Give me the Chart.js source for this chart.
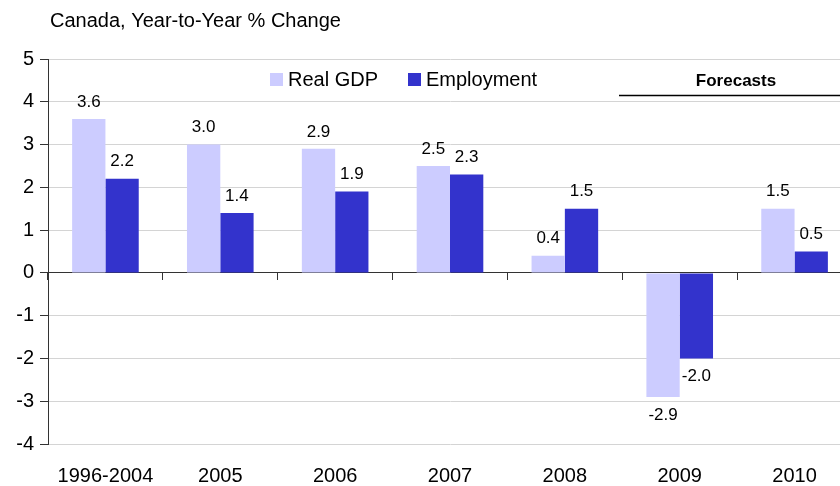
<!DOCTYPE html>
<html>
<head>
<meta charset="utf-8">
<script src="https://cdn.jsdelivr.net/npm/chart.js@4"></script>
<style>
    html, body { margin: 0; padding: 0; background: #fff; overflow: hidden; }
    #wrap { width: 860px; height: 508px; position: relative; }
</style>
</head>
<body>
<div id="wrap"><canvas id="js--growth"></canvas></div>
<script>
const years = ['1996-2004', '2005', '2006', '2007', '2008', '2009', '2010'];
const realGdp = [3.6, 3.0, 2.9, 2.5, 0.4, -2.9, 1.5];
const employment = [2.2, 1.4, 1.9, 2.3, 1.5, -2.0, 0.5];
const yTicks = [-4, -3, -2, -1, 0, 1, 2, 3, 4, 5];

const textFont = 'Liberation Sans, Arial, sans-serif';

/* value labels, legend, title and forecast note */
const extras = {
    id: 'extras',
    afterDatasetsDraw: function (chart) {
        const ctx = chart.ctx;
        ctx.save();
        ctx.font = '17px ' + textFont;
        ctx.fillStyle = '#000';
        ctx.textAlign = 'center';
        ctx.textBaseline = 'middle';
        chart.data.datasets.forEach(function (ds, i) {
            chart.getDatasetMeta(i).data.forEach(function (bar, j) {
                const v = ds.data[j];
                const y = v >= 0 ? bar.y - 17 : bar.y + 18;
                ctx.fillText(v.toFixed(1), bar.x, y);
            });
        });
        ctx.restore();
    },
    afterDraw: function (chart) {
        const ctx = chart.ctx;
        ctx.save();
        ctx.fillStyle = '#000';
        ctx.textBaseline = 'alphabetic';
        ctx.textAlign = 'left';
        ctx.font = '20px ' + textFont;
        ctx.fillText('Canada, Year-to-Year % Change', 50, 27);

        // legend
        const legendX = [270, 408];
        chart.data.datasets.forEach(function (ds, i) {
            ctx.fillStyle = ds.backgroundColor;
            ctx.fillRect(legendX[i], 73, 13, 13);
            ctx.fillStyle = '#000';
            ctx.textBaseline = 'middle';
            ctx.fillText(ds.label, legendX[i] + 18, 80);
        });

        // forecast marker
        ctx.font = 'bold 17px ' + textFont;
        ctx.textAlign = 'center';
        ctx.fillText('Forecasts', 736, 81);
        ctx.strokeStyle = '#000';
        ctx.lineWidth = 1.5;
        ctx.beginPath();
        ctx.moveTo(619, 95.5);
        ctx.lineTo(860, 95.5);
        ctx.stroke();
        ctx.restore();
    }
};

const growthChart = document.getElementById('js--growth');
new Chart(growthChart, {
    type: 'bar',
    data: {
        labels: years,
        datasets: [{
            label: 'Real GDP',
            data: realGdp,
            backgroundColor: '#ccccff',
            categoryPercentage: 0.58,
            barPercentage: 1
        }, {
            label: 'Employment',
            data: employment,
            backgroundColor: '#3333cc',
            categoryPercentage: 0.58,
            barPercentage: 1
        }]
    },
    plugins: [extras],
    options: {
        responsive: true,
        maintainAspectRatio: false,
        animation: false,
        layout: {
            padding: { left: 0, right: 8, top: 59, bottom: 0 }
        },
        plugins: {
            legend: { display: false },
            title: { display: false },
            tooltip: { enabled: false }
        },
        scales: {
            x: {
                position: 'bottom',
                grid: { display: false, drawTicks: false },
                border: { display: false },
                ticks: {
                    color: '#000',
                    padding: 20,
                    font: { family: textFont, size: 20 }
                }
            },
            x0: {
                type: 'category',
                position: { y: 0 },
                grid: {
                    offset: true,
                    drawOnChartArea: false,
                    tickLength: 7,
                    tickColor: '#333'
                },
                border: { color: '#333', width: 1 },
                ticks: { display: false }
            },
            y: {
                min: -4,
                max: 5,
                afterFit: function (scale) {
                    scale.width = 48;
                },
                afterBuildTicks: function (scale) {
                    scale.ticks = yTicks.map(function (v) { return { value: v }; });
                },
                grid: {
                    color: '#d4d4d4',
                    tickColor: '#333',
                    tickLength: 8
                },
                border: { color: '#333', width: 1 },
                ticks: {
                    color: '#000',
                    padding: 6,
                    font: { family: textFont, size: 20 }
                }
            }
        }
    }
});
</script>
</body>
</html>
